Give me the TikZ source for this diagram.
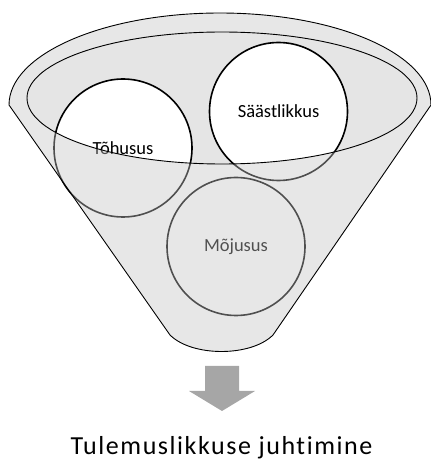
\documentclass[tikz,border=0pt]{standalone}
\usepackage{fontspec}
\setmainfont{Carlito}
\newfontfamily\captionfont[LetterSpace=6, Ligatures=NoCommon]{Carlito}
\definecolor{ovgray}{RGB}{198,198,198}
\definecolor{innergray}{RGB}{229,229,229}
\definecolor{arrowgray}{RGB}{166,166,166}
\tikzset{
  ball/.style={circle, draw=black, line width=1.6pt, fill=white, minimum size=138pt, inner sep=0pt,
    font=\fontsize{18.5}{20}\selectfont},
  funneledge/.style={draw=black, line width=0.9pt},
  veil/.style={fill=ovgray, fill opacity=0.404, even odd rule},
  bigarrow/.style={fill=arrowgray},
  caption/.style={font=\captionfont\fontsize{26}{28}\selectfont, anchor=base, inner sep=0pt}
}
\newcommand{\funnelpath}{(9,354) -- (170,124) .. controls (192,102) and (251,102) .. (273,124) -- (431,354) arc[start angle=0,end angle=180,x radius=211,y radius=92] -- cycle}
\begin{document}
\begin{tikzpicture}[x=1pt,y=1pt]
\useasboundingbox (0,0) rectangle (431,459);
% funnel body
\fill[white] \funnelpath;
\fill[innergray] (222,361) ellipse [x radius=195, y radius=66];
% circles
\node[ball] (toh) at (123,311) {Tõhusus};
\node[ball] (saa) at (278.5,347.5) {Säästlikkus};
\node[ball] (moj) at (236,212.5) {Mõjusus};
% translucent lower body of the funnel
\fill[veil] \funnelpath (222,361) ellipse [x radius=195, y radius=66];
% outlines
\draw[funneledge] \funnelpath;
\draw[funneledge] (222,361) ellipse [x radius=195, y radius=66];
% arrow
\fill[bigarrow] (205,93) -- (239,93) -- (239,68) -- (255,68) -- (222,48) -- (189,68) -- (205,68) -- cycle;
\node[caption] (out) at (221.5,4.6) {Tulemuslikkuse juhtimine};
\end{tikzpicture}
\end{document}
